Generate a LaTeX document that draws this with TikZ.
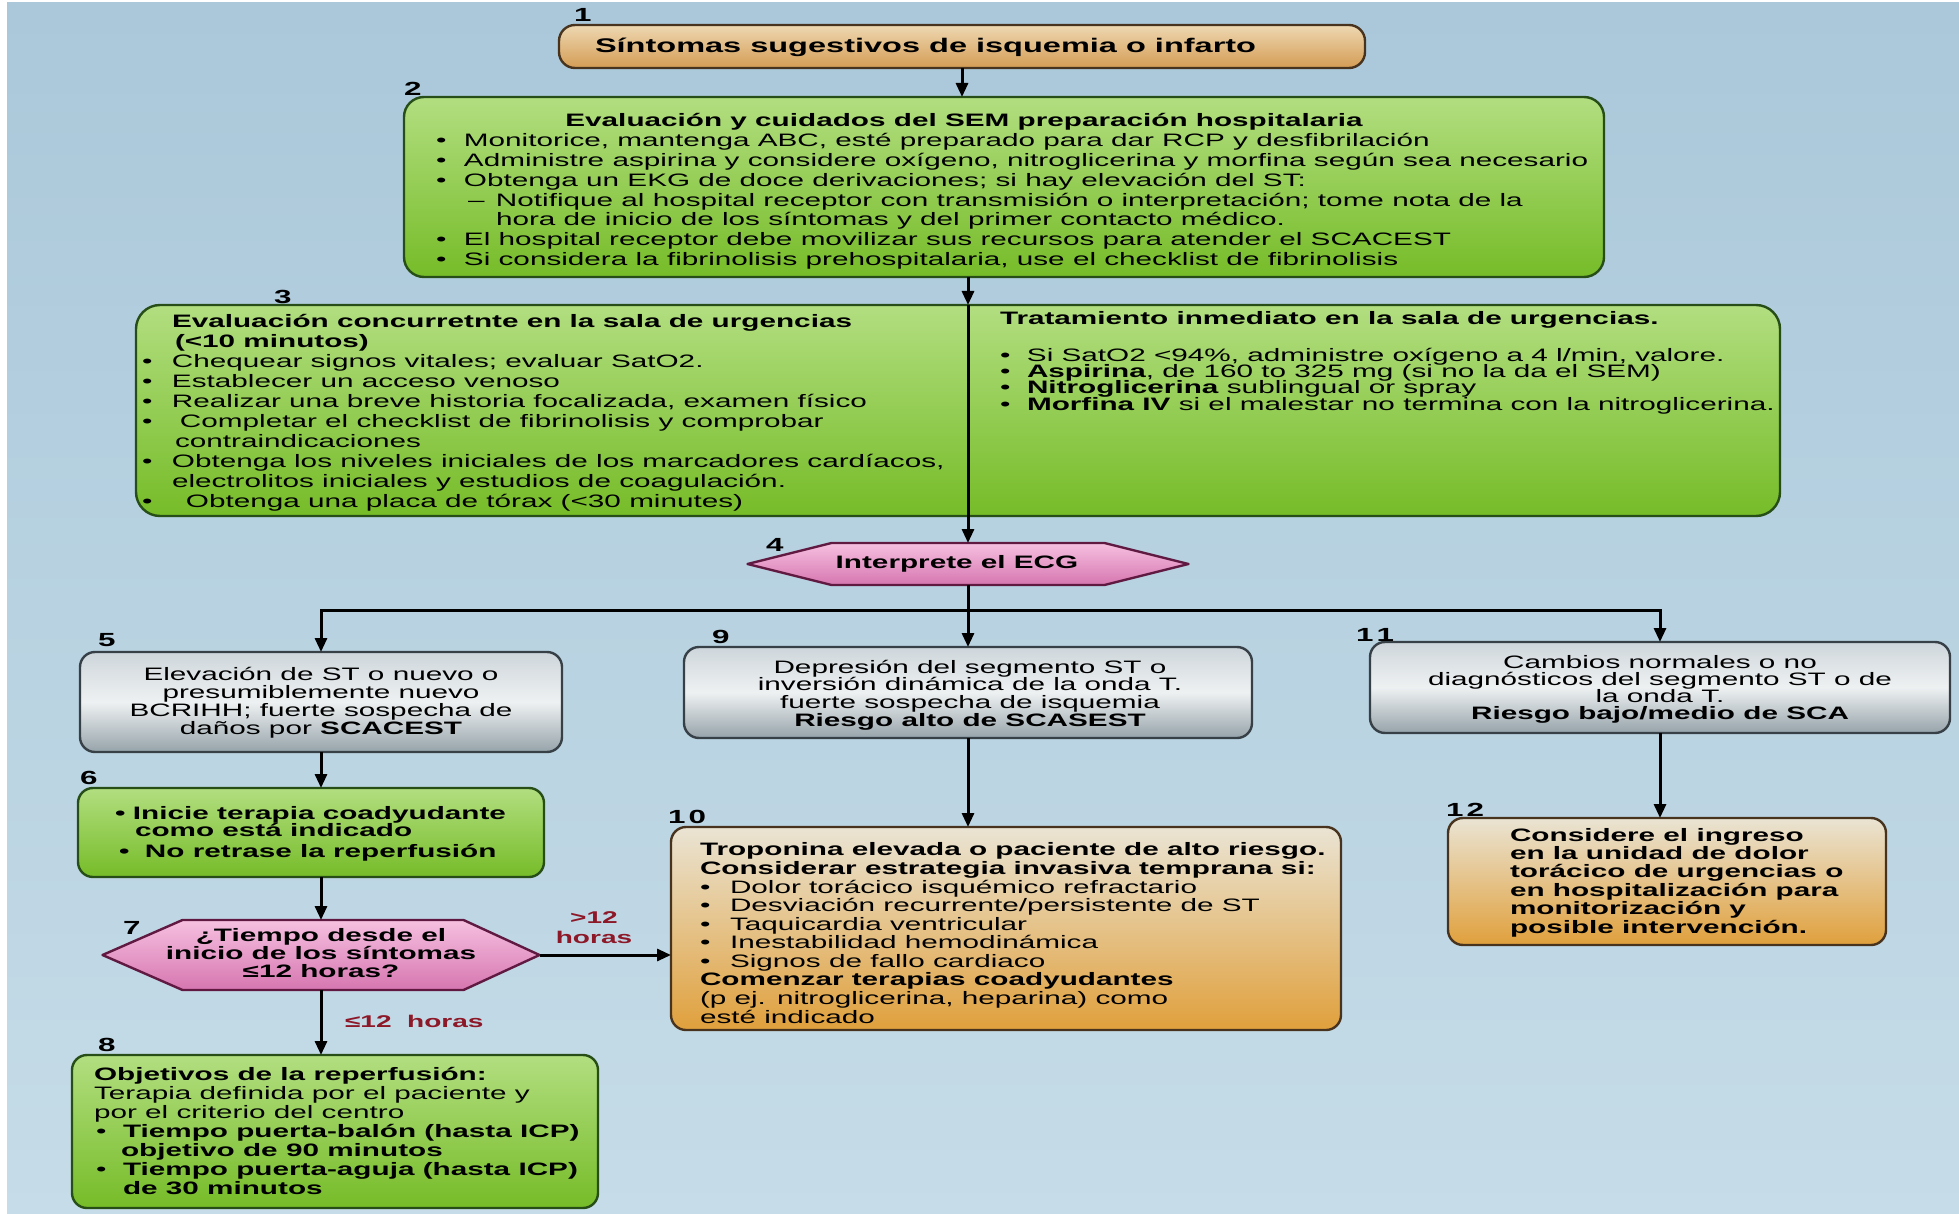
\documentclass[tikz,border=0pt]{standalone}
\usepackage{fontspec}
\setmainfont{Liberation Sans}[FakeStretch=1.65]
\usetikzlibrary{arrows.meta,calc}
\setlength{\lineskiplimit}{-40pt}
\newcommand\myfs[2]{\fontsize{#1pt}{#2pt}\selectfont}
\newcommand\bul[1][28pt]{\makebox[#1][l]{•}}
\definecolor{bgT}{RGB}{170,200,218}
\definecolor{bgB}{RGB}{198,220,232}
\definecolor{grT}{RGB}{178,222,128}
\definecolor{grB}{RGB}{118,188,40}
\definecolor{grD}{RGB}{38,78,22}
\definecolor{gyT}{RGB}{206,214,219}
\definecolor{gyM}{RGB}{238,241,242}
\definecolor{gyB}{RGB}{150,163,170}
\definecolor{gyD}{RGB}{55,64,70}
\definecolor{tnT}{RGB}{234,228,212}
\definecolor{tnB}{RGB}{224,160,60}
\definecolor{tn1T}{RGB}{238,216,178}
\definecolor{tn1B}{RGB}{212,156,84}
\definecolor{tnD}{RGB}{72,52,30}
\definecolor{pkT}{RGB}{246,192,224}
\definecolor{pkB}{RGB}{214,118,176}
\definecolor{pkD}{RGB}{96,26,66}
\definecolor{lblred}{RGB}{140,24,40}
\tikzset{
  every node/.style={inner sep=0pt, outer sep=0pt},
  box/.style={draw, line width=2.4pt, rounded corners=15pt},
  grbox/.style={box, draw=grD, top color=grT, bottom color=grB},
  gybox/.style={box, draw=gyD, top color=gyT, bottom color=gyB, middle color=gyM},
  tnbox/.style={box, draw=tnD, top color=tnT, bottom color=tnB},
  hexfill/.style={draw=pkD, line width=2.4pt, top color=pkT, bottom color=pkB, line join=round},
  arr/.style={line width=3pt, -{Triangle[length=14pt,width=12pt]}},
  ln/.style={line width=3pt},
  num/.style={anchor=base west, font=\myfs{19}{19}\bfseries},
  txt/.style={anchor=base west, align=left, font=\myfs{18}{19.7}},
  ctxt/.style={anchor=base, align=center, font=\myfs{18}{18}},
  redlbl/.style={text=lblred, font=\myfs{17}{20}\bfseries},
}
\begin{document}
\begin{tikzpicture}[x=1pt,y=-1pt]
\useasboundingbox (0,0) rectangle (1959,1214);
\fill[white] (0,0) rectangle (1959,1214);
\shade[top color=bgT, bottom color=bgB] (7,3) rectangle (1959,1214);

% ---------- boxes ----------
\node[tnbox, top color=tn1T, bottom color=tn1B, minimum width=806pt, minimum height=43pt, rounded corners=16pt] (b1) at (962,46.5) {};
\node[grbox, minimum width=1200pt, minimum height=180pt, rounded corners=20pt] (b2) at (1004,187) {};
\node[grbox, minimum width=1644pt, minimum height=211pt, rounded corners=24pt] (b3) at (958,410.5) {};
\node[minimum width=441pt, minimum height=42pt] (d4) at (968,564) {};
\path[hexfill] (d4.west) -- ($(d4.north west)+(84,0)$) -- ($(d4.north east)+(-84,0)$) -- (d4.east) -- ($(d4.south east)+(-84,0)$) -- ($(d4.south west)+(84,0)$) -- cycle;
\node[gybox, minimum width=482pt, minimum height=100pt] (b5) at (321,702) {};
\node[gybox, minimum width=568pt, minimum height=91pt] (b9) at (968,692.5) {};
\node[gybox, minimum width=580pt, minimum height=91pt] (b11) at (1660,687.5) {};
\node[grbox, minimum width=466pt, minimum height=89pt] (b6) at (311,832.5) {};
\node[minimum width=437pt, minimum height=70pt] (d7) at (321,955) {};
\path[hexfill] (d7.west) -- ($(d7.north west)+(80,0)$) -- ($(d7.north east)+(-76,0)$) -- (d7.east) -- ($(d7.south east)+(-76,0)$) -- ($(d7.south west)+(80,0)$) -- cycle;
\node[grbox, minimum width=526pt, minimum height=153pt] (b8) at (335,1131.5) {};
\node[tnbox, minimum width=670pt, minimum height=203pt] (b10) at (1006,928.5) {};
\node[tnbox, minimum width=438pt, minimum height=127pt] (b12) at (1667,881.5) {};

% ---------- numbers ----------
\node[num] (n1) at (574,22) {1};
\node[num] (n2) at (404,96) {2};
\node[num] (n3) at (274,304) {3};
\node[num] (n4) at (766,551) {4};
\node[num] (n5) at (98,646) {5};
\node[num] (n6) at (80,784) {6};
\node[num] (n7) at (123,934) {7};
\node[num] (n8) at (98,1051) {8};
\node[num] (n9) at (712,643) {9};
\node[num] (n10) at (668,823) {1\,0};
\node[num] (n11) at (1356,641) {1\,1};
\node[num] (n12) at (1446,816) {1\,2};

% ---------- texts (multi-line nodes: base = last line) ----------
\node[anchor=base west, font=\myfs{19.7}{20}\bfseries] (t1) at (595,53) {Síntomas sugestivos de isquemia o infarto};

\node[anchor=base, font=\myfs{18}{19.7}\bfseries] (t2h) at (964,127) {Evaluación y cuidados del SEM preparación hospitalaria};
\node[txt] (t2) at (436,265.2) {%
\bul Monitorice, mantenga ABC, esté preparado para dar RCP y desfibrilación\\
\bul Administre aspirina y considere oxígeno, nitroglicerina y morfina según sea necesario\\
\bul Obtenga un EKG de doce derivaciones; si hay elevación del ST:\\
\hspace*{32pt}\makebox[28pt][l]{–}Notifique al hospital receptor con transmisión o interpretación; tome nota de la\\
\hspace*{60pt}hora de inicio de los síntomas y del primer contacto médico.\\
\bul El hospital receptor debe movilizar sus recursos para atender el SCACEST\\
\bul Si considera la fibrinolisis prehospitalaria, use el checklist de fibrinolisis};

\node[txt, font=\myfs{18}{20.1}] (t3a) at (142,507.9) {%
\hspace*{30pt}\textbf{Evaluación concurretnte en la sala de urgencias}\\
\hspace*{33pt}\textbf{(<10 minutos)}\\
\bul[30pt]Chequear signos vitales; evaluar SatO2.\\
\bul[30pt]Establecer un acceso venoso\\
\bul[30pt]Realizar una breve historia focalizada, examen físico\\
\bul[38pt]Completar el checklist de fibrinolisis y comprobar\\
\hspace*{33pt}contraindicaciones\\
\bul[30pt]Obtenga los niveles iniciales de los marcadores cardíacos,\\
\hspace*{30pt}electrolitos iniciales y estudios de coagulación.\\
\bul[44pt]Obtenga una placa de tórax (<30 minutes)};

\node[anchor=base west, font=\myfs{18}{18}\bfseries] (t3bh) at (1000,325) {Tratamiento inmediato en la sala de urgencias.};
\node[txt, font=\myfs{18}{16.4}] (t3b) at (1000,410.2) {%
\bul[27pt]Si SatO2 <94\%, administre oxígeno a 4 l/min, valore.\\
\bul[27pt]\textbf{Aspirina}, de 160 to 325 mg (si no la da el SEM)\\
\bul[27pt]\textbf{Nitroglicerina} sublingual or spray\\
\bul[27pt]\textbf{Morfina IV} si el malestar no termina con la nitroglicerina.};

\node[anchor=base, font=\myfs{18}{18}\bfseries] (t4) at (957,568) {Interprete el ECG};

\node[ctxt, font=\myfs{18}{18.3}] (t5) at (321,734.9) {Elevación de ST o nuevo o\\presumiblemente nuevo\\BCRIHH; fuerte sospecha de\\daños por \textbf{SCACEST}};
\node[ctxt, font=\myfs{18}{17.7}] (t9) at (970,726.1) {Depresión del segmento ST o\\inversión dinámica de la onda T.\\fuerte sospecha de isquemia\\\textbf{Riesgo alto de SCASEST}};
\node[ctxt, font=\myfs{18}{17}] (t11) at (1660,719) {Cambios normales o no\\diagnósticos del segmento ST o de\\la onda T.\\\textbf{Riesgo bajo/medio de SCA}};

\node[txt, font=\myfs{18}{17.5}\bfseries] (t6) at (115,857.5) {%
\bul[18pt]Inicie terapia coadyudante\\
\hspace*{20pt}como está indicado\\[3.5pt]
\hspace*{4pt}\makebox[26pt][l]{•}No retrase la reperfusión};

\node[ctxt, font=\myfs{18}{18}\bfseries] (t7) at (321,977) {¿Tiempo desde el\\inicio de los síntomas\\≤12 horas?};

\node[txt, font=\myfs{18}{19}] (t8) at (94,1194) {%
\textbf{Objetivos de la reperfusión:}\\
Terapia definida por el paciente y\\
por el criterio del centro\\
\hspace*{2pt}\makebox[27pt][l]{•}\textbf{Tiempo puerta-balón (hasta ICP)}\\
\hspace*{27pt}\textbf{objetivo de 90 minutos}\\
\hspace*{2pt}\makebox[27pt][l]{•}\textbf{Tiempo puerta-aguja (hasta ICP)}\\
\hspace*{29pt}\textbf{de 30 minutos}};

\node[txt, font=\myfs{18}{18.56}] (t10) at (700,1023) {%
\textbf{Troponina elevada o paciente de alto riesgo.}\\
\textbf{Considerar estrategia invasiva temprana si:}\\
\bul[30pt]Dolor torácico isquémico refractario\\
\bul[30pt]Desviación recurrente/persistente de ST\\
\bul[30pt]Taquicardia ventricular\\
\bul[30pt]Inestabilidad hemodinámica\\
\bul[30pt]Signos de fallo cardiaco\\
\textbf{Comenzar terapias coadyudantes}\\
(p ej. nitroglicerina, heparina) como\\
esté indicado};

\node[txt, font=\myfs{18}{18.4}\bfseries] (t12) at (1510,933) {%
Considere el ingreso\\
en la unidad de dolor\\
torácico de urgencias o\\
en hospitalización para\\
monitorización y\\
posible intervención.};

\node[redlbl, anchor=base, align=center] (l712a) at (594,943) {>12\\horas};
\node[redlbl, anchor=base west] (l78) at (345,1027) {≤12\ \ horas};

% ---------- connectors ----------
\coordinate (br) at (968,610);
\draw[arr] (b1.south) -- (b1.south |- b2.north);
\draw[arr] (b2.south -| d4) -- (b3.north -| d4);
\draw[arr] (b3.north -| d4) -- (d4.north);
\draw[ln] (d4.south) -- (br);
\draw[arr] (br) -| (b5.north);
\draw[arr] (br) -| (b11.north);
\draw[arr] (br) -- (b9.north);
\draw[arr] (b5.south) -- (b5.south |- b6.north);
\draw[arr] (b6.south -| d7) -- (d7.north);
\draw[arr] (d7.east) -- (d7.east -| b10.west);
\draw[arr] (d7.south) -- (d7.south |- b8.north);
\draw[arr] (b9.south) -- (b9.south |- b10.north);
\draw[arr] (b11.south) -- (b11.south |- b12.north);
\end{tikzpicture}
\end{document}
